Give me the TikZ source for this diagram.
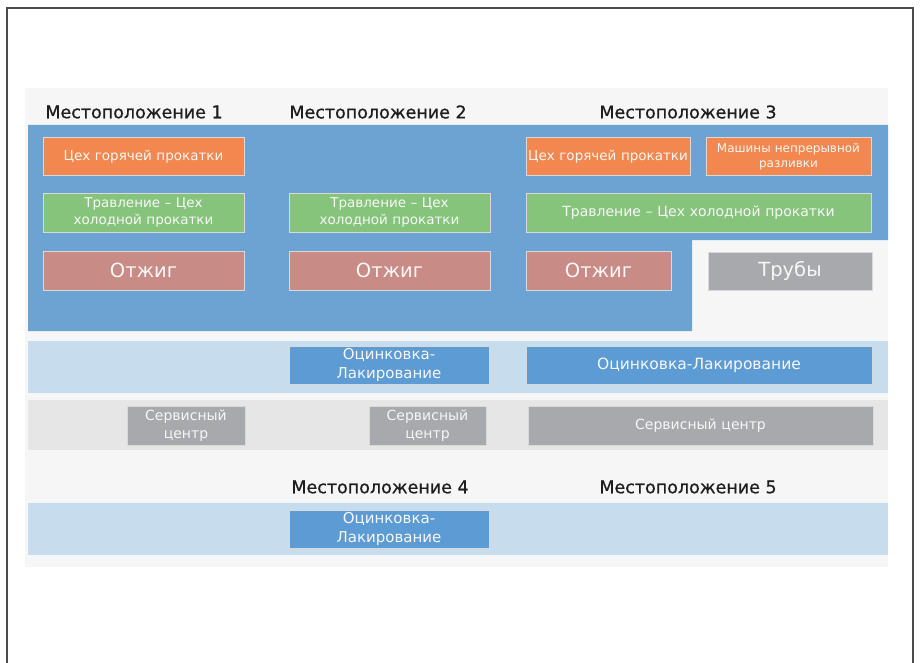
\documentclass[tikz,border=0pt]{standalone}
\usepackage{fontspec}
\setmainfont{DejaVu Sans}
\newfontfamily\hdrfont[FakeBold=0.8]{DejaVu Sans}
\definecolor{bigblue}{HTML}{6CA3D2}
\definecolor{lband}{HTML}{C7DCEC}
\definecolor{gband}{HTML}{E6E6E6}
\definecolor{panel}{HTML}{F6F6F6}
\definecolor{cor}{HTML}{F2884F}
\definecolor{cgr}{HTML}{86C47C}
\definecolor{cred}{HTML}{C98B86}
\definecolor{cgy}{HTML}{A7A9AC}
\definecolor{cbl}{HTML}{5C9BD3}
\definecolor{hdr}{HTML}{1E1E1E}
\tikzset{
  cbox/.style={draw=white!85!black, line width=1pt, text=white!94!gray, align=center,
    inner sep=0pt},
  hdrtext/.style={text=hdr, font=\hdrfont\fontsize{17.5}{20}\selectfont},
}
\newcommand{\bx}[8]{% name, color, x1,y1,x2,y2, fontsize, text
  \pgfmathsetmacro{\bxw}{#5-#3}%
  \pgfmathsetmacro{\bxh}{#6-#4}%
  \pgfmathsetmacro{\bxt}{#5-#3-2}%
  \pgfmathsetmacro{\bxcx}{(#3+#5)/2}%
  \pgfmathsetmacro{\bxcy}{(#4+#6)/2}%
  \pgfmathsetmacro{\bxls}{1.25*#7}%
  \node[cbox, fill=#2, minimum width=\bxw pt, minimum height=\bxh pt,
        text width=\bxt pt, font=\fontsize{#7}{\bxls}\selectfont] (#1) at (\bxcx,\bxcy) {#8};}
\begin{document}
\begin{tikzpicture}[x=1pt,y=-1pt]
\useasboundingbox (0,0) rectangle (920,663);
\fill[white] (0,0) rectangle (920,663);
\draw[line width=1.2pt, black!70] (7,663) -- (7,8) -- (913,8) -- (913,663);
\fill[panel] (25,88) rectangle (888,567);
\fill[bigblue] (28,125) -- (888,125) -- (888,240) -- (692,240) -- (692,331) -- (28,331) -- cycle;
\fill[lband] (28,341) rectangle (888,393);
\fill[gband] (28,400) rectangle (888,450);
\fill[lband] (28,503) rectangle (888,555);
\node[hdrtext] (h1) at (134,112) {Местоположение 1};
\node[hdrtext] (h2) at (378,112) {Местоположение 2};
\node[hdrtext] (h3) at (688,112) {Местоположение 3};
\node[hdrtext] (h4) at (380,487) {Местоположение 4};
\node[hdrtext] (h5) at (688,487) {Местоположение 5};
\bx{a1}{cor}{43}{138}{244}{176}{13.5}{Цех горячей прокатки}
\bx{a3}{cor}{526}{138}{690}{176}{13.5}{Цех горячей прокатки}
\bx{a4}{cor}{706}{138}{871}{176}{12}{Машины непрерывной\\разливки}
\bx{b1}{cgr}{43}{193}{244}{232}{13.5}{Травление -- Цех\\холодной прокатки}
\bx{b2}{cgr}{289}{193}{490}{232}{13.5}{Травление -- Цех\\холодной прокатки}
\bx{b3}{cgr}{526}{193}{871}{232}{14}{Травление -- Цех холодной прокатки}
\bx{c1}{cred}{43}{251}{244}{290}{19.5}{Отжиг}
\bx{c2}{cred}{289}{251}{490}{290}{19.5}{Отжиг}
\bx{c3}{cred}{526}{251}{671}{290}{19.5}{Отжиг}
\bx{c4}{cgy}{708}{252}{872}{290}{19.5}{Трубы}
\bx{d2}{cbl}{289}{346}{489}{384}{15}{Оцинковка-\\Лакирование}
\bx{d3}{cbl}{526}{346}{872}{384}{15.5}{Оцинковка-Лакирование}
\bx{e1}{cgy}{127}{406}{245}{445}{14}{Сервисный\\центр}
\bx{e2}{cgy}{369}{406}{486}{445}{14}{Сервисный\\центр}
\bx{e3}{cgy}{528}{406}{873}{445}{14}{Сервисный центр}
\bx{f2}{cbl}{289}{510}{489}{548}{15}{Оцинковка-\\Лакирование}
\end{tikzpicture}
\end{document}
